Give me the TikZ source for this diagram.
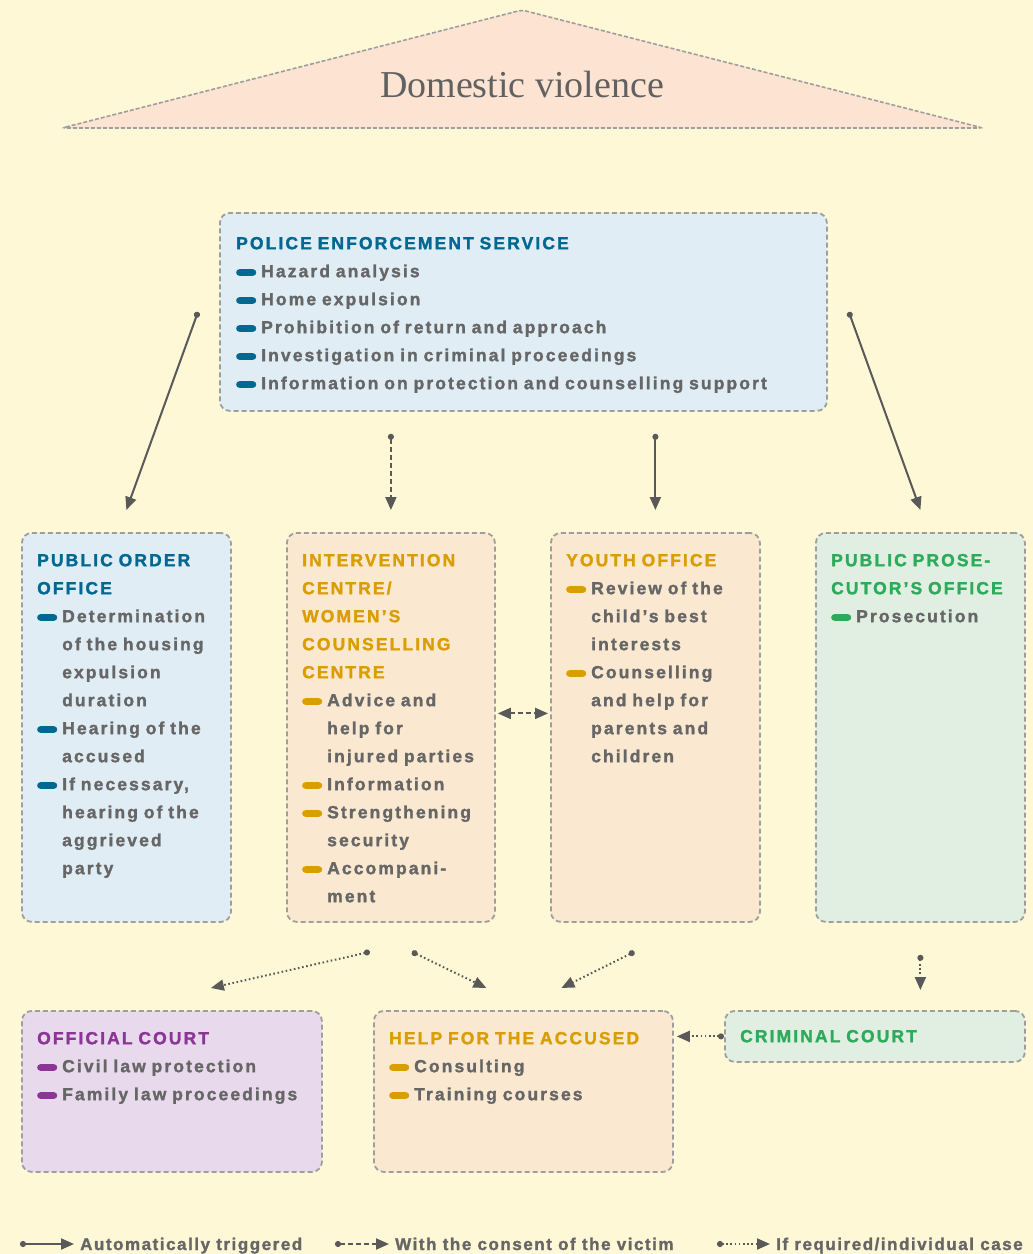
\documentclass[tikz,border=0pt]{standalone}
\usepackage{fontspec}
\setmainfont{Liberation Serif}
\newfontfamily\boxfont[LetterSpace=12.0,FakeBold=1.5]{Liberation Sans Bold}
\newfontfamily\legendfont[LetterSpace=9.0,FakeBold=1.5]{Liberation Sans Bold}
\usetikzlibrary{arrows.meta,calc,positioning}

\definecolor{paper}{RGB}{255,248,214}
\definecolor{roof}{RGB}{252,227,210}
\definecolor{blue fill}{RGB}{224,237,245}
\definecolor{blue mark}{RGB}{0,104,145}
\definecolor{orange fill}{RGB}{250,232,208}
\definecolor{orange mark}{RGB}{218,158,0}
\definecolor{green fill}{RGB}{224,239,226}
\definecolor{green mark}{RGB}{45,170,90}
\definecolor{purple fill}{RGB}{232,218,236}
\definecolor{purple mark}{RGB}{139,53,150}
\colorlet{box edge}{black!38}
\colorlet{arrow line}{black!65}
\colorlet{body text}{black!60}

\newcommand{\pill}[1]{\tikz[x=1pt,y=1pt,baseline=0pt]\fill[#1,rounded corners=3.2pt] (0,1.4) rectangle (20,8);}
\newcommand{\entry}[2]{\par\hangindent=25pt\hangafter=1\noindent\makebox[25pt][l]{\pill{#1}}#2\par}
\newcommand{\heading}[2]{\noindent\rule{0pt}{20pt}\textcolor{#1}{#2}}

\tikzset{
  panel/.style={draw=box edge, line width=1.8pt, dash pattern=on 5pt off 3pt,
    rounded corners=10pt, fill=#1, anchor=north west, inner sep=0pt},
  listing/.style={anchor=north west, inner sep=0pt, text width=#1, text=body text,
    font=\boxfont\fontsize{17.5}{28}\selectfont, execute at begin node=\raggedright},
  legend/.style={anchor=base west, inner sep=0pt, text=body text,
    font=\legendfont\fontsize{17}{20}\selectfont},
  triggered/.style={draw=arrow line, line width=2pt,
    {Circle[length=6pt]}-{Triangle[length=13pt,width=11pt]}},
  consent/.style={triggered, dash pattern=on 5pt off 3pt},
  required/.style={triggered, dash pattern=on 1.6pt off 2.6pt}
}

\begin{document}
\begin{tikzpicture}[x=1pt,y=-1pt]
  \useasboundingbox (0,0) rectangle (1033,1254);
  \fill[paper] (0,0) rectangle (1033,1254);

  % roof
  \filldraw[fill=roof, draw=box edge, line width=1.6pt, dash pattern=on 4pt off 2pt,
    rounded corners=4pt] (62,128) -- (522,10) -- (983,128) -- cycle;
  \node[text=black!62, font=\fontsize{38}{40}\selectfont] (title) at (522,84) {Domestic violence};

  % boxes
  \node[panel=blue fill, minimum width=607pt, minimum height=198pt] (police) at (219,212) {};
  \node[panel=blue fill, minimum width=209pt, minimum height=389pt] (order) at (21,532) {};
  \node[panel=orange fill, minimum width=208pt, minimum height=389pt] (interv) at (286,532) {};
  \node[panel=orange fill, minimum width=209pt, minimum height=389pt] (youth) at (550,532) {};
  \node[panel=green fill, minimum width=209pt, minimum height=389pt] (prosec) at (815,532) {};
  \node[panel=purple fill, minimum width=300pt, minimum height=161pt] (official) at (21,1010) {};
  \node[panel=orange fill, minimum width=299pt, minimum height=161pt] (help) at (373,1010) {};
  \node[panel=green fill, minimum width=300pt, minimum height=51pt] (crim) at (724,1010) {};

  \node[listing=600pt] (policetext) at ($(police.north west)+(17,17)$) {%
    \heading{blue mark}{POLICE ENFORCEMENT SERVICE}
    \entry{blue mark}{Hazard analysis}
    \entry{blue mark}{Home expulsion}
    \entry{blue mark}{Prohibition of return and approach}
    \entry{blue mark}{Investigation in criminal proceedings}
    \entry{blue mark}{Information on protection and counselling support}};
  \node[listing=260pt] (ordertext) at ($(order.north west)+(16,14)$) {%
    \heading{blue mark}{PUBLIC ORDER\newline OFFICE}
    \entry{blue mark}{Determination\newline of the housing\newline expulsion\newline duration}
    \entry{blue mark}{Hearing of the\newline accused}
    \entry{blue mark}{If necessary,\newline hearing of the\newline aggrieved\newline party}};
  \node[listing=260pt] (intervtext) at ($(interv.north west)+(16,14)$) {%
    \heading{orange mark}{INTERVENTION\newline CENTRE/\newline WOMEN’S\newline COUNSELLING\newline CENTRE}
    \entry{orange mark}{Advice and\newline help for\newline injured parties}
    \entry{orange mark}{Information}
    \entry{orange mark}{Strengthening\newline security}
    \entry{orange mark}{Accompani-\newline ment}};
  \node[listing=260pt] (youthtext) at ($(youth.north west)+(16,14)$) {%
    \heading{orange mark}{YOUTH OFFICE}
    \entry{orange mark}{Review of the\newline child’s best\newline interests}
    \entry{orange mark}{Counselling\newline and help for\newline parents and\newline children}};
  \node[listing=260pt] (prosectext) at ($(prosec.north west)+(16,14)$) {%
    \heading{green mark}{PUBLIC PROSE-\newline CUTOR’S OFFICE}
    \entry{green mark}{Prosecution}};
  \node[listing=340pt] (officialtext) at ($(official.north west)+(16,14)$) {%
    \heading{purple mark}{OFFICIAL COURT}
    \entry{purple mark}{Civil law protection}
    \entry{purple mark}{Family law proceedings}};
  \node[listing=340pt] (helptext) at ($(help.north west)+(16,14)$) {%
    \heading{orange mark}{HELP FOR THE ACCUSED}
    \entry{orange mark}{Consulting}
    \entry{orange mark}{Training courses}};
  \node[listing=340pt] (crimtext) at ($(crim.north west)+(16,12)$) {%
    \heading{green mark}{CRIMINAL COURT}};

  % connectors
  \draw[triggered] ([xshift=-21pt]police.west) -- ([yshift=22pt]order.north);
  \draw[triggered] ([xshift=21pt]police.east) -- ([yshift=22pt]prosec.north);
  \draw[consent] ($(police.south -| interv.north)+(0,22)$) -- ([yshift=22pt]interv.north);
  \draw[triggered] ($(police.south -| youth.north)+(0,22)$) -- ([yshift=22pt]youth.north);
  \draw[consent, {Triangle[length=13pt,width=11pt]}-{Triangle[length=13pt,width=11pt]}]
    ($(interv.east)+(2,-14)$) -- ($(youth.west)+(-2,-14)$);
  \draw[required] ($(interv.south)+(-21,29)$) -- ($(official.north)+(39,-22)$);
  \draw[required] ($(interv.south)+(21,29)$) -- ($(help.north)+(-37,-22)$);
  \draw[required] ($(youth.south)+(-21,29)$) -- ($(help.north)+(38,-22)$);
  \draw[required] ($(prosec.south)+(0,32)$) -- ($(crim.north -| prosec.south)+(0,-20)$);
  \draw[required] (crim.west) -- ($(crim.west -| help.east)+(3,0)$);

  % legend
  \node[legend] (lgauto) at (80,1250) {Automatically triggered};
  \node[legend] (lgconsent) at (395,1250) {With the consent of the victim};
  \node[legend] (lgrequired) at (776,1250) {If required/individual case};
  \draw[triggered] ([shift={(-60pt,6pt)}]lgauto.base west) -- ([shift={(-6pt,6pt)}]lgauto.base west);
  \draw[consent] ([shift={(-60pt,6pt)}]lgconsent.base west) -- ([shift={(-6pt,6pt)}]lgconsent.base west);
  \draw[required] ([shift={(-59pt,6pt)}]lgrequired.base west) -- ([shift={(-6pt,6pt)}]lgrequired.base west);
\end{tikzpicture}
\end{document}
